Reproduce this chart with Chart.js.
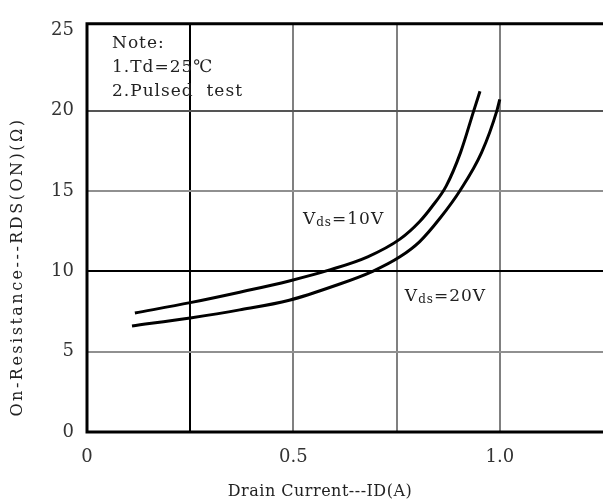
<!DOCTYPE html>
<html lang="en">
<head>
    <meta charset="UTF-8">
    <title>On-Resistance vs Drain Current</title>
    <script src="https://cdn.jsdelivr.net/npm/chart.js"></script>
    <style>
        html, body { margin: 0; padding: 0; background: #fff; overflow: hidden; }
    </style>
</head>
<body>
    <canvas id="rdsChart" width="603" height="504"></canvas>

    <script>
        // Curve readings (ID in A, RDS(ON) in ohm)
        const vds10X = [0.116, 0.25, 0.37, 0.49, 0.59, 0.68, 0.758, 0.806, 0.835, 0.87, 0.905, 0.937, 0.952];
        const vds10Y = [7.4, 8.05, 8.7, 9.4, 10.1, 10.9, 12.0, 13.1, 14.0, 15.3, 17.4, 20.0, 21.2];
        const vds20X = [0.109, 0.25, 0.37, 0.49, 0.6, 0.692, 0.758, 0.806, 0.855, 0.903, 0.956, 0.993, 1.0];
        const vds20Y = [6.6, 7.1, 7.6, 8.2, 9.1, 10.0, 10.9, 11.85, 13.3, 15.0, 17.4, 20.0, 20.7];

        const xTickLabels = { 0: '0', 0.5: '0.5', 1: '1.0' };
        const xGridValues = [0, 0.25, 0.5, 0.75, 1, 1.25];
        const yTicks = [0, 5, 10, 15, 20, 25];

        const noteLines = ['Note:', '1.Td=25\u2103', '2.Pulsed  test'];
        const curveLabels = [
            { x: 0.523, y: 13.2, sub: 'ds', rest: '=10V' },
            { x: 0.77, y: 8.4, sub: 'ds', rest: '=20V' }
        ];

        const serif = '"DejaVu Serif", "Liberation Serif", serif';

        function toPoints(xs, ys) {
            return xs.map((x, i) => ({ x: x, y: ys[i] }));
        }

        // frame, note, curve labels and axis titles
        const extras = {
            id: 'extras',
            afterDraw(chart) {
                const ctx = chart.ctx;
                const a = chart.chartArea;
                const xs = chart.scales.x;
                const ys = chart.scales.y;
                ctx.save();
                ctx.strokeStyle = '#000';
                ctx.lineWidth = 3;
                ctx.beginPath();
                ctx.moveTo(a.right, a.top);
                ctx.lineTo(a.left, a.top);
                ctx.lineTo(a.left, a.bottom);
                ctx.lineTo(a.right, a.bottom);
                ctx.stroke();

                ctx.fillStyle = '#222';
                ctx.textBaseline = 'middle';
                ctx.textAlign = 'left';
                ctx.font = '17px ' + serif;
                ctx.letterSpacing = '1px';
                noteLines.forEach((t, i) => {
                    ctx.fillText(t, a.left + 25, a.top + 20 + i * 24);
                });

                curveLabels.forEach(l => {
                    let px = xs.getPixelForValue(l.x);
                    const py = ys.getPixelForValue(l.y);
                    ctx.font = '17px ' + serif;
                    ctx.fillText('V', px, py);
                    px += ctx.measureText('V').width;
                    ctx.font = '12px ' + serif;
                    ctx.fillText(l.sub, px, py + 3);
                    px += ctx.measureText(l.sub).width;
                    ctx.font = '17px ' + serif;
                    ctx.fillText(l.rest, px, py);
                });

                ctx.font = '16px ' + serif;
                ctx.letterSpacing = '0.5px';
                ctx.textAlign = 'center';
                ctx.fillText('Drain Current---ID(A)', 320, 492);
                ctx.letterSpacing = '2.5px';
                ctx.translate(18, 267);
                ctx.rotate(-Math.PI / 2);
                ctx.fillText('On-Resistance---RDS(ON)(\u03A9)', 0, 0);
                ctx.restore();
            }
        };

        new Chart(document.getElementById('rdsChart'), {
            type: 'line',
            data: {
                datasets: [
                    {
                        label: 'Vds=10V',
                        data: toPoints(vds10X, vds10Y),
                        borderColor: '#000',
                        borderWidth: 3,
                        pointRadius: 0,
                        cubicInterpolationMode: 'monotone',
                        fill: false
                    },
                    {
                        label: 'Vds=20V',
                        data: toPoints(vds20X, vds20Y),
                        borderColor: '#000',
                        borderWidth: 3,
                        pointRadius: 0,
                        cubicInterpolationMode: 'monotone',
                        fill: false
                    }
                ]
            },
            options: {
                responsive: false,
                animation: false,
                layout: { padding: { top: 17, right: 0, left: 0, bottom: 0 } },
                plugins: {
                    legend: { display: false },
                    tooltip: { enabled: false }
                },
                scales: {
                    x: {
                        type: 'linear',
                        min: 0,
                        max: 1.25,
                        border: { display: false },
                        afterFit: s => {
                            s.height = 72;
                            s.paddingLeft = 0;
                            s.paddingRight = 0;
                        },
                        afterBuildTicks: s => {
                            s.ticks = xGridValues.map(v => ({ value: v }));
                        },
                        grid: {
                            drawTicks: false,
                            lineWidth: 2,
                            color: c => {
                                const v = c.tick ? c.tick.value : 0;
                                if (v === 0 || v === 1.25) return 'rgba(0,0,0,0)';
                                if (v === 0.25) return '#000';
                                return '#808080';
                            }
                        },
                        ticks: {
                            padding: 15,
                            color: '#333',
                            font: { family: serif, size: 18 },
                            maxRotation: 0,
                            autoSkip: false,
                            callback: v => (xTickLabels[v] !== undefined ? xTickLabels[v] : '')
                        }
                    },
                    y: {
                        type: 'linear',
                        min: 0,
                        max: 25.4,
                        border: { display: false },
                        afterFit: s => { s.width = 87; },
                        afterBuildTicks: s => {
                            s.ticks = yTicks.map(v => ({ value: v }));
                        },
                        grid: {
                            drawTicks: false,
                            lineWidth: 2,
                            color: c => {
                                const v = c.tick ? c.tick.value : 0;
                                if (v === 0 || v === 25) return 'rgba(0,0,0,0)';
                                if (v === 10) return '#000';
                                if (v === 20) return '#555';
                                return '#909090';
                            }
                        },
                        ticks: {
                            padding: 13,
                            color: '#333',
                            font: { family: serif, size: 18 }
                        }
                    }
                }
            },
            plugins: [extras]
        });
    </script>
</body>
</html>
